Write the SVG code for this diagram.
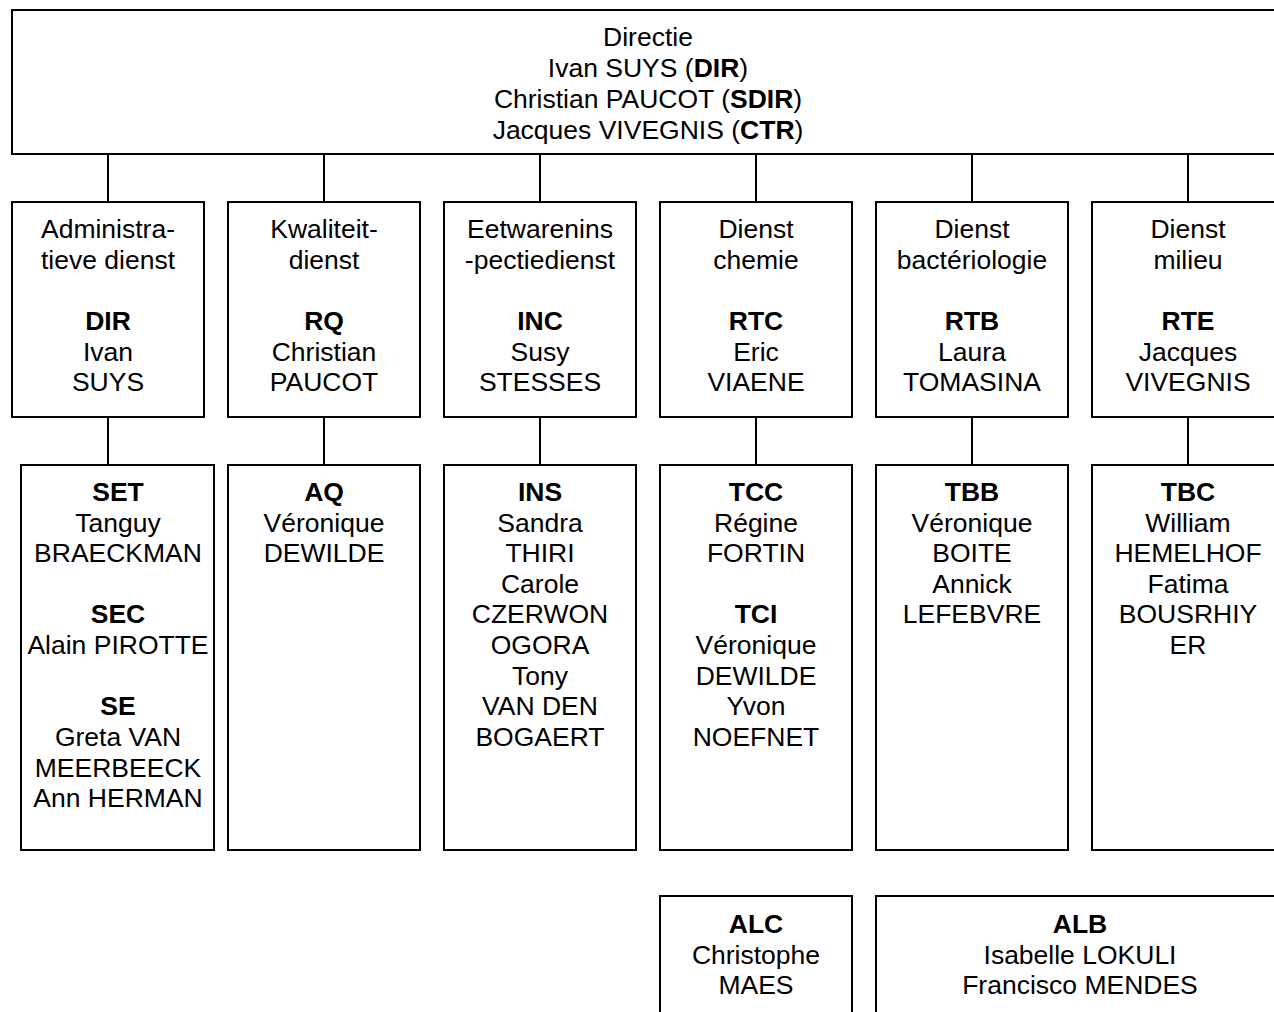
<svg xmlns="http://www.w3.org/2000/svg" width="1274" height="1012" viewBox="0 0 1274 1012">
<style>
.b{fill:#fff;stroke:#000;stroke-width:2}
.c{stroke:#000;stroke-width:2;fill:none}
text{font-family:"Liberation Sans",Arial,sans-serif;font-size:26.5px;fill:#000;text-anchor:middle}
.bd{font-weight:bold}
</style>
<rect width="1274" height="1012" fill="#fff"/>
<g id="connectors">
<path class="c" d="M108 154V202M324 154V202M540 154V202M756 154V202M972 154V202M1188 154V202"/>
<path class="c" d="M108 417V465M324 417V465M540 417V465M756 417V465M972 417V465M1188 417V465"/>
</g>
<g id="directie">
<rect class="b" x="12" y="10" width="1272" height="144"/>
<text x="648" y="46">Directie</text>
<text x="648" y="77">Ivan SUYS (<tspan class="bd">DIR</tspan>)</text>
<text x="648" y="108">Christian PAUCOT (<tspan class="bd">SDIR</tspan>)</text>
<text x="648" y="139">Jacques VIVEGNIS (<tspan class="bd">CTR</tspan>)</text>
</g>
<g id="admin">
<rect class="b" x="12" y="202" width="192" height="215"/>
<text x="108" y="238">Administra-</text>
<text x="108" y="269">tieve dienst</text>
<text x="108" y="330" class="bd">DIR</text>
<text x="108" y="361">Ivan</text>
<text x="108" y="391">SUYS</text>
</g>
<g id="kwaliteit">
<rect class="b" x="228" y="202" width="192" height="215"/>
<text x="324" y="238">Kwaliteit-</text>
<text x="324" y="269">dienst</text>
<text x="324" y="330" class="bd">RQ</text>
<text x="324" y="361">Christian</text>
<text x="324" y="391">PAUCOT</text>
</g>
<g id="eetwaren">
<rect class="b" x="444" y="202" width="192" height="215"/>
<text x="540" y="238">Eetwarenins</text>
<text x="540" y="269">-pectiedienst</text>
<text x="540" y="330" class="bd">INC</text>
<text x="540" y="361">Susy</text>
<text x="540" y="391">STESSES</text>
</g>
<g id="chemie">
<rect class="b" x="660" y="202" width="192" height="215"/>
<text x="756" y="238">Dienst</text>
<text x="756" y="269">chemie</text>
<text x="756" y="330" class="bd">RTC</text>
<text x="756" y="361">Eric</text>
<text x="756" y="391">VIAENE</text>
</g>
<g id="bacterio">
<rect class="b" x="876" y="202" width="192" height="215"/>
<text x="972" y="238">Dienst</text>
<text x="972" y="269">bactériologie</text>
<text x="972" y="330" class="bd">RTB</text>
<text x="972" y="361">Laura</text>
<text x="972" y="391">TOMASINA</text>
</g>
<g id="milieu">
<rect class="b" x="1092" y="202" width="192" height="215"/>
<text x="1188" y="238">Dienst</text>
<text x="1188" y="269">milieu</text>
<text x="1188" y="330" class="bd">RTE</text>
<text x="1188" y="361">Jacques</text>
<text x="1188" y="391">VIVEGNIS</text>
</g>
<g id="admin-staff">
<rect class="b" x="21" y="465" width="193" height="385"/>
<text x="118" y="501" class="bd">SET</text>
<text x="118" y="532">Tanguy</text>
<text x="118" y="562">BRAECKMAN</text>
<text x="118" y="623" class="bd">SEC</text>
<text x="118" y="654">Alain PIROTTE</text>
<text x="118" y="715" class="bd">SE</text>
<text x="118" y="746">Greta VAN</text>
<text x="118" y="777">MEERBEECK</text>
<text x="118" y="807">Ann HERMAN</text>
</g>
<g id="kwaliteit-staff">
<rect class="b" x="228" y="465" width="192" height="385"/>
<text x="324" y="501" class="bd">AQ</text>
<text x="324" y="532">Véronique</text>
<text x="324" y="562">DEWILDE</text>
</g>
<g id="eetwaren-staff">
<rect class="b" x="444" y="465" width="192" height="385"/>
<text x="540" y="501" class="bd">INS</text>
<text x="540" y="532">Sandra</text>
<text x="540" y="562">THIRI</text>
<text x="540" y="593">Carole</text>
<text x="540" y="623">CZERWON</text>
<text x="540" y="654">OGORA</text>
<text x="540" y="685">Tony</text>
<text x="540" y="715">VAN DEN</text>
<text x="540" y="746">BOGAERT</text>
</g>
<g id="chemie-staff">
<rect class="b" x="660" y="465" width="192" height="385"/>
<text x="756" y="501" class="bd">TCC</text>
<text x="756" y="532">Régine</text>
<text x="756" y="562">FORTIN</text>
<text x="756" y="623" class="bd">TCI</text>
<text x="756" y="654">Véronique</text>
<text x="756" y="685">DEWILDE</text>
<text x="756" y="715">Yvon</text>
<text x="756" y="746">NOEFNET</text>
</g>
<g id="bacterio-staff">
<rect class="b" x="876" y="465" width="192" height="385"/>
<text x="972" y="501" class="bd">TBB</text>
<text x="972" y="532">Véronique</text>
<text x="972" y="562">BOITE</text>
<text x="972" y="593">Annick</text>
<text x="972" y="623">LEFEBVRE</text>
</g>
<g id="milieu-staff">
<rect class="b" x="1092" y="465" width="192" height="385"/>
<text x="1188" y="501" class="bd">TBC</text>
<text x="1188" y="532">William</text>
<text x="1188" y="562">HEMELHOF</text>
<text x="1188" y="593">Fatima</text>
<text x="1188" y="623">BOUSRHIY</text>
<text x="1188" y="654">ER</text>
</g>
<g id="alc">
<rect class="b" x="660" y="896" width="192" height="130"/>
<text x="756" y="933" class="bd">ALC</text>
<text x="756" y="964">Christophe</text>
<text x="756" y="994">MAES</text>
</g>
<g id="alb">
<rect class="b" x="876" y="896" width="420" height="130"/>
<text x="1080" y="933" class="bd">ALB</text>
<text x="1080" y="964">Isabelle LOKULI</text>
<text x="1080" y="994">Francisco MENDES</text>
</g>
</svg>
